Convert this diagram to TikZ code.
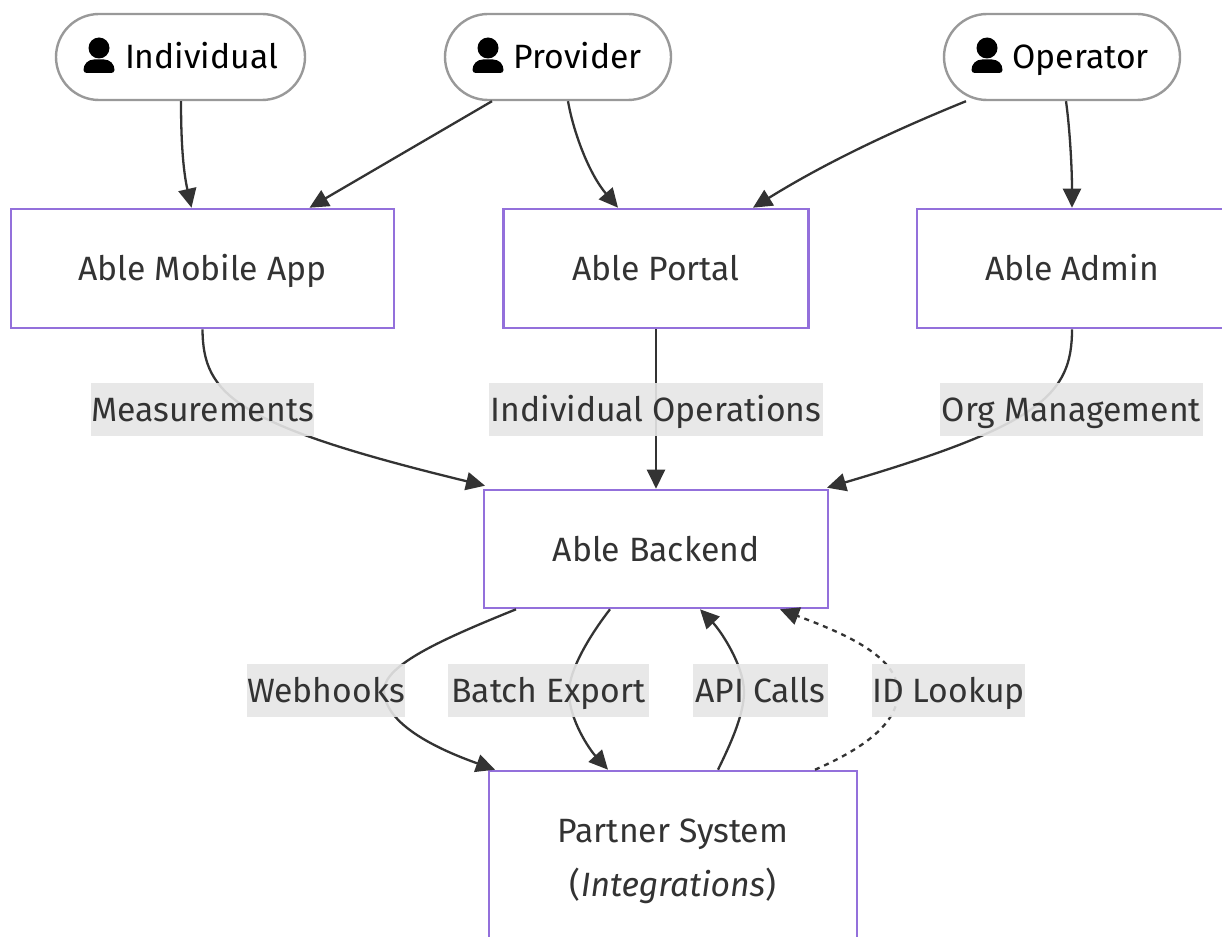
\documentclass[tikz,border=0pt]{standalone}
\usepackage{fontspec}
\setmainfont{Fira Sans}
\usetikzlibrary{arrows.meta}
\definecolor{ink}{HTML}{333333}
\definecolor{boxline}{HTML}{9370DB}
\definecolor{pill}{HTML}{999999}
\definecolor{lab}{HTML}{E6E6E6}
\tikzset{
 x=1pt,y=-1pt,
 txt/.style={font=\fontsize{33.7}{54}\selectfont,text=ink,text height=33pt,text depth=9pt},
 boxn/.style={draw=boxline,line width=2.6pt,fill=white,inner sep=0pt,align=center,txt},
 pilln/.style={draw=pill,line width=2.4pt,fill=white,rounded corners=43pt,inner sep=0pt,txt,text=black},
 edgelab/.style={fill=lab,fill opacity=.9,text opacity=1,inner sep=0pt,txt},
 conn/.style={draw=ink,line width=2.3pt,-{Triangle[length=19pt,width=18pt]}},
 dots/.style={conn,dash pattern=on 5pt off 5pt},
}
\newcommand{\personicon}[1]{%
 \begin{scope}[xshift=#1 pt]
 \fill[black] (0,48) circle (10.5);
 \fill[black] (-15.5,70) .. controls (-15.5,64) and (-11,59.5) .. (-5,59.5) -- (5,59.5) .. controls (11,59.5) and (15.5,64) .. (15.5,70) .. controls (15.5,72) and (14,73) .. (12,73) -- (-12,73) .. controls (-14,73) and (-15.5,72) .. (-15.5,70) -- cycle;
 \end{scope}
}
\begin{document}
\begin{tikzpicture}
\useasboundingbox (0,0) rectangle (1222,936);
\clip (0,0) rectangle (1222,936);
\fill[white] (0,0) rectangle (1222,936);
% nodes (coordinates in pixels)
\node[pilln,minimum width=249pt,minimum height=86pt] (ind) at (180.5,57) {};
\node[pilln,minimum width=226pt,minimum height=86pt] (pro) at (558,57) {};
\node[pilln,minimum width=236pt,minimum height=86pt] (ope) at (1062,57) {};
\node[boxn,minimum width=383pt,minimum height=119pt] (mob) at (202.5,268.5) {Able Mobile App};
\node[boxn,minimum width=305pt,minimum height=119pt] (por) at (656,268.5) {Able Portal};
\node[boxn,minimum width=310pt,minimum height=119pt] (adm) at (1072,268.5) {Able Admin};
\node[boxn,minimum width=344pt,minimum height=118pt] (bac) at (656,549) {Able Backend};
\node[boxn,minimum width=368pt,minimum height=220pt,align=center] (par) at (673,881) {};
\node[txt,text=ink] (part) at (673,830) {Partner System};
\node[txt,text=ink] (pari) at (673,884) {(\textit{Integrations})};
% connectors
\draw[conn] ([xshift=0.5pt]ind.south) .. controls (181,140) and (183,170) .. ([xshift=-11pt]mob.north);
\draw[conn] ([xshift=-66pt]pro.south) -- ([xshift=107pt]mob.north);
\draw[conn] ([xshift=10pt]pro.south) .. controls (574,135) and (590,175) .. ([xshift=-38pt]por.north);
\draw[conn] ([xshift=-96pt]ope.south) .. controls (900,128) and (830,160) .. ([xshift=97pt]por.north);
\draw[conn] ([xshift=4pt]ope.south) .. controls (1070,130) and (1072,170) .. (adm.north);
\draw[conn] (mob.south) .. controls (203,395) and (235,425) .. ([xshift=-171pt,yshift=3pt]bac.north);
\draw[conn] (por.south) -- (bac.north);
\draw[conn] (adm.south) .. controls (1072,395) and (1040,425) .. ([xshift=171pt,yshift=1pt]bac.north);
\draw[conn] ([xshift=-140pt]bac.south) .. controls (440,640) and (385,665) .. (384,690) .. controls (384,725) and (440,750) .. ([xshift=-178pt]par.north);
\draw[conn] ([xshift=-46pt]bac.south) .. controls (590,635) and (569,670) .. (569,692) .. controls (569,720) and (590,750) .. ([xshift=-65pt]par.north);
\draw[conn] ([xshift=45pt]par.north) .. controls (730,745) and (744,715) .. (744,692) .. controls (744,665) and (720,630) .. ([xshift=44pt]bac.south);
\draw[dots] ([xshift=142pt]par.north) .. controls (860,750) and (898,725) .. (898,692) .. controls (898,655) and (840,632) .. ([xshift=124pt]bac.south);
% edge labels
\node[edgelab,minimum width=223pt,minimum height=53pt] (l1) at (202.5,409.5) {Measurements};
\node[edgelab,minimum width=334pt,minimum height=53pt] (l2) at (656,409.5) {Individual Operations};
\node[edgelab,minimum width=263pt,minimum height=53pt] (l3) at (1071.5,409.5) {Org Management};
\node[edgelab,minimum width=156pt,minimum height=53pt] (l4) at (326,690) {Webhooks};
\node[edgelab,minimum width=201pt,minimum height=53pt] (l5) at (548.5,690) {Batch Export};
\node[edgelab,minimum width=135pt,minimum height=53pt] (l6) at (760.5,690) {API Calls};
\node[edgelab,minimum width=153pt,minimum height=53pt] (l7) at (948.5,690) {ID Lookup};
% pill contents
\personicon{99}
\node[txt,text=black,anchor=west] (tind) at (121.5,57) {Individual};
\personicon{488}
\node[txt,text=black,anchor=west] (tpro) at (510,57) {Provider};
\personicon{987}
\node[txt,text=black,anchor=west] (tope) at (1009,57) {Operator};
\end{tikzpicture}
\end{document}
